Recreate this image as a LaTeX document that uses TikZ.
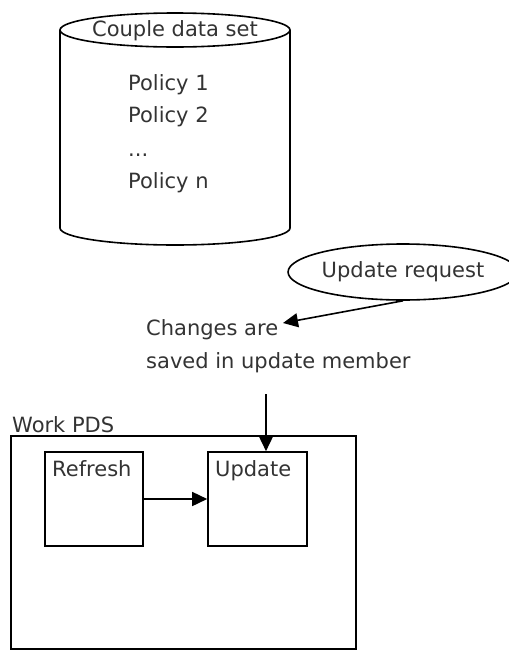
\documentclass[tikz,border=0pt]{standalone}
\usepackage{fontspec}
\setmainfont{DejaVu Sans}
\usetikzlibrary{arrows.meta,shapes.geometric}

\tikzset{
  lbl/.style={inner sep=0pt,text=black!80,font=\fontsize{21}{25}\selectfont},
  box/.style={draw,line width=1.6pt},
  arr/.style={line width=1.6pt,-{Triangle[length=15pt,width=14pt]}}
}

\begin{document}
\begin{tikzpicture}[x=1pt,y=-1pt]
  \useasboundingbox (0,0) rectangle (509,651);
  % couple data set (cylinder)
  \draw[line width=1.6pt] (60,30) -- (60,228)
    arc[start angle=180,end angle=0,x radius=115,y radius=17] -- (290,30);
  \draw[line width=1.6pt] (175,30) ellipse (115 and 17);
  \node[lbl] (cds) at (175,31) {Couple data set};
  \node[lbl,anchor=base west] (pol1) at (128,90) {Policy 1};
  \node[lbl,anchor=base west] (pol2) at (128,122) {Policy 2};
  \node[lbl,anchor=base west] (dots) at (128,156) {...};
  \node[lbl,anchor=base west] (poln) at (128,188) {Policy n};
  % update request
  \node[lbl,draw=black,ellipse,line width=1.6pt,minimum width=210pt,minimum height=56pt] (req) at (403,272) {Update request};
  \node[lbl,anchor=base west] (chg) at (146,335) {Changes are};
  \node[lbl,anchor=base west] (sav) at (146,368) {saved in update member};
  \coordinate (chgpt) at (283,323);
  \draw[arr] (req.south) -- (chgpt);
  % work PDS
  \node[box,minimum width=345pt,minimum height=213pt] (pds) at (183.5,542.5) {};
  \node[lbl,anchor=base west] (pdslbl) at (12,432) {Work PDS};
  \node[box,minimum width=98pt,minimum height=94pt] (ref) at (94,499) {};
  \node[box,minimum width=99pt,minimum height=94pt] (upd) at (257.5,499) {};
  \node[lbl,anchor=base west] at (52,476) {Refresh};
  \node[lbl,anchor=base west] at (215,476) {Update};
  \coordinate (vtop) at (266,394);
  \draw[arr] (vtop) -- (vtop |- upd.north);
  \draw[arr] (ref.east) -- (upd.west);
\end{tikzpicture}
\end{document}
